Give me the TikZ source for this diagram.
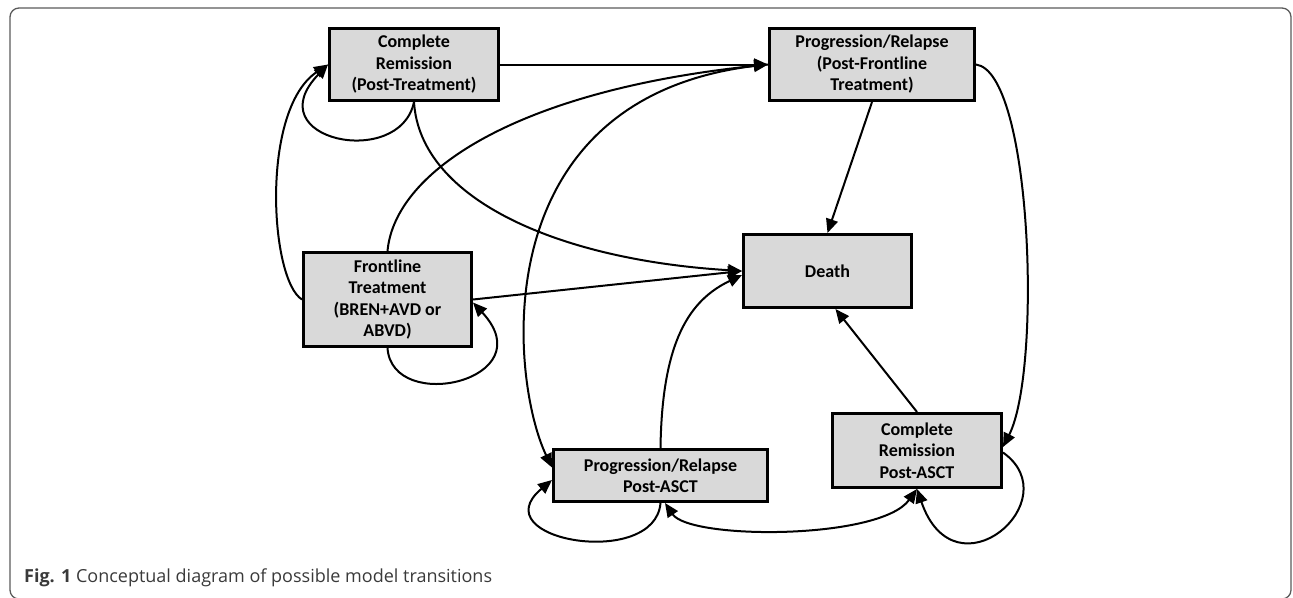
\documentclass[tikz,border=0pt]{standalone}
\usepackage{fontspec}
\setmainfont{Carlito}
\newfontfamily\capfont{Open Sans}
\usetikzlibrary{arrows.meta}
\usetikzlibrary{positioning}
\definecolor{boxgray}{HTML}{D9D9D9}
\definecolor{framegray}{HTML}{5A5A5A}
\definecolor{capgray}{HTML}{3A3A3A}

\begin{document}
\begin{tikzpicture}
		[x=1pt, y=-1pt,
		 stage/.style={rectangle, draw=black, line width=3pt, fill=boxgray, inner sep=0pt,
		   align=center, font=\bfseries\fontsize{18}{21.5}\selectfont},
		 link/.style={line width=2pt, ->},
		 >={Triangle[length=14pt, width=12pt]}]
		\useasboundingbox (0,0) rectangle (1293,597);
		\draw[framegray, line width=1.3pt, rounded corners=9pt] (10,8) rectangle (1291,599);
		\node[stage, minimum width=169pt, minimum height=72pt] (CR) at (414,64.5) {Complete\\Remission\\(Post-Treatment)};
		\node[stage, minimum width=205pt, minimum height=72pt] (PR) at (872,64.5) {Progression/Relapse\\(Post-Frontline\\Treatment)};
		\node[stage, minimum width=168pt, minimum height=73pt] (Death) at (827.5,271) {Death};
		\node[stage, minimum width=168pt, minimum height=94pt] (FT) at (387.5,299.5) {Frontline\\Treatment\\(BREN+AVD or\\ABVD)};
		\node[stage, minimum width=214pt, minimum height=52pt] (PRA) at (660.5,475.5) {Progression/Relapse\\Post-ASCT};
		\node[stage, minimum width=169pt, minimum height=74pt] (CRA) at (917,450.5) {Complete\\Remission\\Post-ASCT};
		\node[anchor=base west, inner sep=0pt, text=capgray, font=\capfont\fontsize{18}{21}\selectfont] (caption) at (24,582) {\textbf{Fig. 1} Conceptual diagram of possible model transitions};
		\draw[link] (CR.east) -- (PR.west);
		\draw[link] (CR.south) .. controls (400,170) and (255,140) .. (CR.west);
		\draw[link] (FT.west) .. controls (270,280) and (260,110) .. (CR.west);
		\draw[link] (CR.south) .. controls (420,200) and (560,260) .. (Death.west);
		\draw[link] (FT.north) .. controls (395,170) and (520,90) .. (PR.west);
		\draw[link] (PR.west) .. controls (480,90) and (510,380) .. ([yshift=8pt]PRA.west);
		\draw[link] (PR.east) .. controls (1032,72) and (1042,370) .. ([yshift=3.5pt]CRA.east);
		\draw[link] (PR.south) -- (Death.north);
		\draw[link] (CRA.north) -- ([xshift=8pt]Death.south);
		\draw[link] (FT.east) -- (Death.west);
		\draw[link] (FT.south) .. controls (392,415) and (545,380) .. ([yshift=-3pt]FT.east);
		\draw[link] (PRA.north) .. controls (662,340) and (690,300) .. ([yshift=-4pt]Death.west);
		\draw[link, <->] ([xshift=4.5pt]PRA.south) .. controls (690,540) and (880,540) .. (CRA.south);
		\draw[link] (PRA.south) .. controls (655,570) and (480,540) .. ([yshift=-4.5pt]PRA.west);
		\draw[link] ([yshift=-2pt]CRA.east) .. controls (1070,500) and (955,600) .. (CRA.south);
	\end{tikzpicture}
\end{document}
